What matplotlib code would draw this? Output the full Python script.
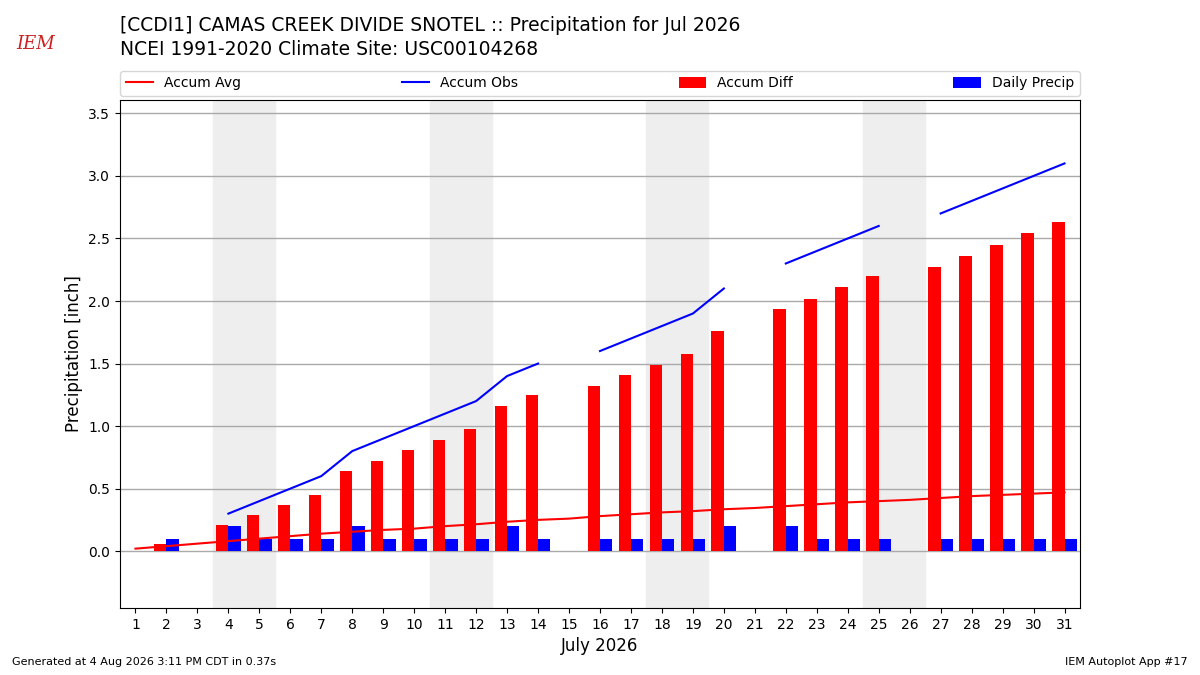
import numpy as np
import matplotlib

matplotlib.use("Agg")
import matplotlib.pyplot as plt

days = list(range(1, 32))
accum_avg = [0.02, 0.04, 0.06, 0.08, 0.10, 0.12, 0.14, 0.155, 0.17, 0.18,
             0.20, 0.215, 0.235, 0.25, 0.26, 0.28, 0.295, 0.31, 0.32, 0.335,
             0.345, 0.36, 0.375, 0.39, 0.40, 0.41, 0.425, 0.44, 0.45, 0.46, 0.47]
nan = float("nan")
accum_obs = [nan, 0.1, nan, 0.3, 0.4, 0.5, 0.6, 0.8, 0.9, 1.0,
             1.1, 1.2, 1.4, 1.5, nan, 1.6, 1.7, 1.8, 1.9, 2.1,
             nan, 2.3, 2.4, 2.5, 2.6, nan, 2.7, 2.8, 2.9, 3.0, 3.1]
accum_diff = [nan, 0.06, nan, 0.21, 0.29, 0.37, 0.45, 0.64, 0.72, 0.81,
              0.89, 0.98, 1.16, 1.25, nan, 1.32, 1.41, 1.49, 1.58, 1.76,
              nan, 1.94, 2.02, 2.11, 2.20, nan, 2.27, 2.36, 2.45, 2.54, 2.63]
daily = [nan, 0.1, nan, 0.2, 0.1, 0.1, 0.1, 0.2, 0.1, 0.1,
         0.1, 0.1, 0.2, 0.1, nan, 0.1, 0.1, 0.1, 0.1, 0.2,
         nan, 0.2, 0.1, 0.1, 0.1, nan, 0.1, 0.1, 0.1, 0.1, 0.1]
weekends = [4, 11, 18, 25]  # sábados de jul/2026

fig = plt.figure(figsize=(12, 6.75), dpi=100)
ax = fig.add_axes([0.1, 0.099, 0.8, 0.753])

for d in weekends:
    ax.axvspan(d - 0.5, d + 1.5, color="#eeeeee", zorder=0)

x = np.array(days)
ax.plot(x, accum_avg, color="r", label="Accum Avg", zorder=3)
ax.plot(x, accum_obs, color="b", label="Accum Obs", zorder=3)
ax.bar(x - 0.2, accum_diff, width=0.4, color="r", label="Accum Diff", zorder=2)
ax.bar(x + 0.2, daily, width=0.4, color="b", label="Daily Precip", zorder=2)

ax.set_xlim(0.5, 31.5)
ax.set_ylim(-0.456, 3.608)
ax.set_xticks(days)
ax.set_yticks(np.arange(0, 3.51, 0.5))
ax.yaxis.grid(True, color="#aaaaaa", linewidth=1)
ax.set_axisbelow(True)
ax.set_xlabel("July 2026", fontsize=12)
ax.set_ylabel("Precipitation [inch]", fontsize=12)

ax.legend(loc="lower left", bbox_to_anchor=(0, 1.008, 1, 0.05), ncol=4,
          mode="expand", borderaxespad=0, fontsize=10, handleheight=0.9)

fig.text(0.1, 0.962, "[CCDI1] CAMAS CREEK DIVIDE SNOTEL :: Precipitation for Jul 2026",
         fontsize=13.5, va="center")
fig.text(0.1, 0.927, "NCEI 1991-2020 Climate Site: USC00104268",
         fontsize=13.5, va="center")
fig.text(0.03, 0.935, "IEM", fontsize=13, color="#cc2222", style="italic",
         family="DejaVu Serif", ha="center", va="center")
fig.text(0.01, 0.015, "Generated at 4 Aug 2026 3:11 PM CDT in 0.37s", fontsize=8)
fig.text(0.99, 0.015, "IEM Autoplot App #17", fontsize=8, ha="right")

fig.savefig("out.png", dpi=100)
